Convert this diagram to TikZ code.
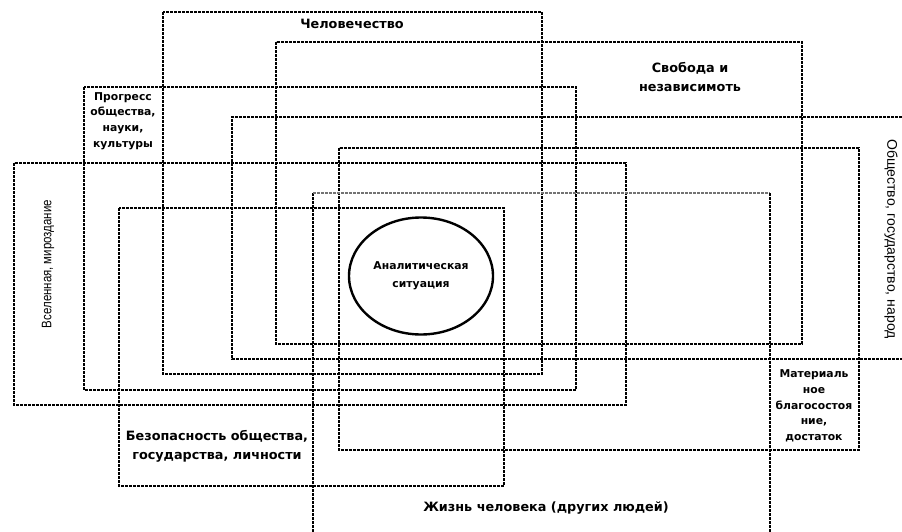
\documentclass[tikz,border=0pt]{standalone}
\usepackage{fontspec}
\setmainfont{DejaVu Sans}
\newfontfamily\arialfont{Liberation Sans}
\newfontfamily\narrowfont[FakeStretch=0.83]{Liberation Sans}
\usetikzlibrary{shapes.geometric}
\begin{document}
\begin{tikzpicture}[x=1pt,y=-1pt,
  frame/.style={draw=black,line width=1.1pt,dash pattern=on 2.6pt off 1.4pt},
  lightframe/.style={draw=black!55,line width=1.1pt,dash pattern=on 2.6pt off 1.4pt},
  lbl/.style={inner sep=0pt,align=center,font=\fontsize{12.8}{19}\selectfont\bfseries},
  small/.style={inner sep=0pt,align=center,font=\fontsize{10.8}{15.7}\selectfont\bfseries},
  side/.style={inner sep=0pt,font=\narrowfont\fontsize{13.8}{16}\selectfont},
  core/.style={draw=black,line width=2.4pt,ellipse,minimum width=144pt,minimum height=117pt,inner sep=0pt,align=center,font=\fontsize{10.8}{18}\selectfont\bfseries}]
\useasboundingbox (0,0) rectangle (902,532);
% rectangles
\draw[frame] (163,12) rectangle (542,374);
\draw[frame] (276,42) rectangle (802,344);
\draw[frame] (84,87) rectangle (576,390);
\draw[frame] (902,117) -- (232,117) -- (232,359) -- (902,359);
\draw[frame] (339,148) rectangle (859,450);
\draw[frame] (14,163) rectangle (626,405);
\draw[frame] (313,532) -- (313,193);
\draw[lightframe] (313,193) -- (770,193);
\draw[frame] (770,193) -- (770,532);
\draw[frame] (119,208) rectangle (504,486);
% circle
\node[core] (an) at (421,276) {Аналитическая\\ситуация};
% labels
\node[lbl] (hum) at (352,24) {Человечество};
\node[lbl] (free) at (690,77) {Свобода и\\независимоть};
\node[small] (prog) at (123,121) {Прогресс\\общества,\\науки,\\культуры};
\node[small] (mat) at (814,406) {Материаль\\ное\\благосостоя\\ние,\\достаток};
\node[lbl] (safe) at (217,446) {Безопасность общества,\\государства, личности};
\node[lbl] (life) at (546,508) {Жизнь человека (других людей)};
\node[side,rotate=90] (univ) at (48,264) {Вселенная, мироздание};
\node[side,rotate=-90,font=\arialfont\fontsize{14}{16}\selectfont] (soc) at (891,239) {Общество, государство, народ};
\end{tikzpicture}
\end{document}
